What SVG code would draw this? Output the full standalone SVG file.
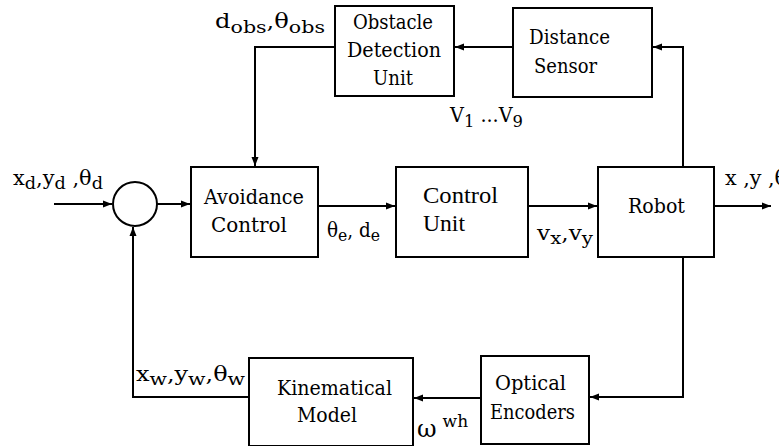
<svg xmlns="http://www.w3.org/2000/svg" width="779" height="446" viewBox="0 0 779 446" font-family="DejaVu Serif, Liberation Serif, serif">
<style>
.box{fill:#fff;stroke:#000;stroke-width:2}
.ln{fill:none;stroke:#000;stroke-width:2}
text{font-family:"DejaVu Serif","Liberation Serif",serif;fill:#000;font-size:20px}
.tn{font-family:"Liberation Serif","DejaVu Serif",serif;font-size:23px}
.sub{font-size:17px}
.om{font-size:24px}
</style>
<defs>
<marker id="ah" markerUnits="userSpaceOnUse" markerWidth="10" markerHeight="10" viewBox="0 0 10 10" refX="9" refY="5" orient="auto">
<path d="M0,1.5 L9,5 L0,8.5 Z" fill="#000"/>
</marker>
</defs>
<g id="connectors">
<path class="ln" d="M513,47 H455" marker-end="url(#ah)"/>
<path class="ln" d="M683,167 V47 H653" marker-end="url(#ah)"/>
<path class="ln" d="M335,47 H255 V166" marker-end="url(#ah)"/>
<path class="ln" d="M54,204 H112" marker-end="url(#ah)"/>
<path class="ln" d="M157,204 H190" marker-end="url(#ah)"/>
<path class="ln" d="M318,206 H395" marker-end="url(#ah)"/>
<path class="ln" d="M528,206 H597" marker-end="url(#ah)"/>
<path class="ln" d="M714,206 H771" marker-end="url(#ah)"/>
<path class="ln" d="M683,257 V397 H590" marker-end="url(#ah)"/>
<path class="ln" d="M481,398 H414" marker-end="url(#ah)"/>
<path class="ln" d="M249,397 H133 V227" marker-end="url(#ah)"/>
</g>
<g id="sum"><circle cx="135" cy="204" r="22" fill="#fff" stroke="#000" stroke-width="2"/></g>
<g id="obstacle">
<rect class="box" x="335" y="6" width="119" height="90"/>
<text x="353" y="29" textLength="80" lengthAdjust="spacingAndGlyphs">Obstacle</text>
<text x="347" y="57" textLength="94" lengthAdjust="spacingAndGlyphs">Detection</text>
<text x="373" y="85" textLength="40" lengthAdjust="spacingAndGlyphs">Unit</text>
</g>
<g id="distance">
<rect class="box" x="513" y="8" width="139" height="89"/>
<text x="529" y="44" textLength="81" lengthAdjust="spacingAndGlyphs">Distance</text>
<text x="534" y="73" textLength="63" lengthAdjust="spacingAndGlyphs">Sensor</text>
</g>
<g id="avoidance">
<rect class="box" x="191" y="167" width="127" height="90"/>
<text x="204" y="204" textLength="100" lengthAdjust="spacingAndGlyphs">Avoidance</text>
<text x="211" y="232" textLength="76" lengthAdjust="spacingAndGlyphs">Control</text>
</g>
<g id="control">
<rect class="box" x="396" y="167" width="132" height="90"/>
<text class="tn" x="423" y="203" textLength="75" lengthAdjust="spacingAndGlyphs">Control</text>
<text class="tn" x="423" y="231" textLength="42" lengthAdjust="spacingAndGlyphs">Unit</text>
</g>
<g id="robot">
<rect class="box" x="598" y="167" width="116" height="90"/>
<text x="628" y="213" textLength="57" lengthAdjust="spacingAndGlyphs">Robot</text>
</g>
<g id="kinematical">
<rect class="box" x="249" y="358" width="164" height="88"/>
<text x="277" y="395" textLength="115" lengthAdjust="spacingAndGlyphs">Kinematical</text>
<text x="297" y="422" textLength="60" lengthAdjust="spacingAndGlyphs">Model</text>
</g>
<g id="encoders">
<rect class="box" x="481" y="356" width="108" height="88"/>
<text x="495" y="390" textLength="71" lengthAdjust="spacingAndGlyphs">Optical</text>
<text x="490" y="419" textLength="85" lengthAdjust="spacingAndGlyphs">Encoders</text>
</g>
<g id="labels">
<text x="215" y="28" textLength="110" lengthAdjust="spacingAndGlyphs">d<tspan class="sub" dy="5">obs</tspan><tspan dy="-5">,θ</tspan><tspan class="sub" dy="5">obs</tspan></text>
<text x="450" y="122" textLength="73" lengthAdjust="spacingAndGlyphs">V<tspan class="sub" dy="5">1</tspan><tspan dy="-5"> ...V</tspan><tspan class="sub" dy="5">9</tspan></text>
<text x="13" y="185" textLength="90" lengthAdjust="spacingAndGlyphs">x<tspan class="sub" dy="4">d</tspan><tspan dy="-4">,y</tspan><tspan class="sub" dy="4">d</tspan><tspan dy="-4"> ,θ</tspan><tspan class="sub" dy="4">d</tspan></text>
<text x="327" y="237" textLength="53" lengthAdjust="spacingAndGlyphs">θ<tspan class="sub" dy="4">e</tspan><tspan dy="-4">, d</tspan><tspan class="sub" dy="4">e</tspan></text>
<text x="537" y="240" textLength="56" lengthAdjust="spacingAndGlyphs">v<tspan class="sub" dy="4">x</tspan><tspan dy="-4">,v</tspan><tspan class="sub" dy="4">y</tspan></text>
<text x="725" y="185" textLength="62" lengthAdjust="spacingAndGlyphs">x ,y ,θ</text>
<text x="136" y="381" textLength="109" lengthAdjust="spacingAndGlyphs">x<tspan class="sub" dy="4">w</tspan><tspan dy="-4">,y</tspan><tspan class="sub" dy="4">w</tspan><tspan dy="-4">,θ</tspan><tspan class="sub" dy="4">w</tspan></text>
<text class="om" x="417" y="437">ω<tspan class="sub" dx="6" dy="-10">wh</tspan></text>
</g>
</svg>
